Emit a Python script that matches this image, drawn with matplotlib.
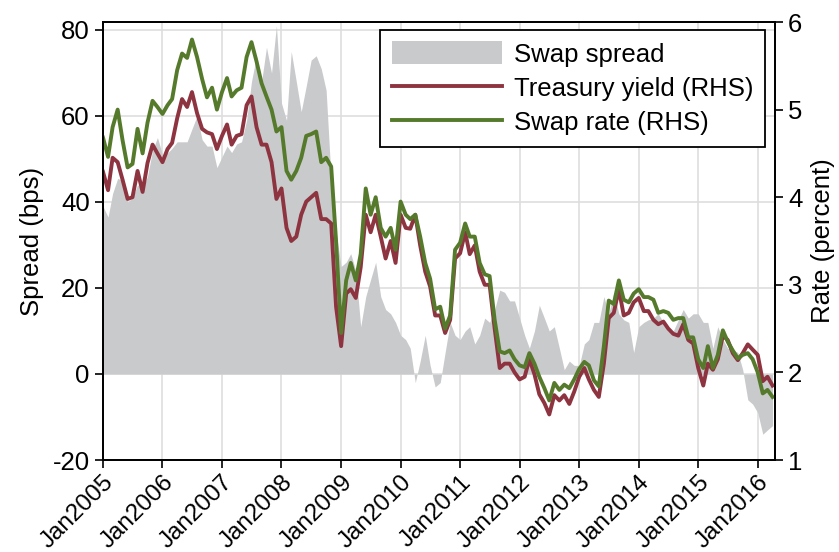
import pandas as pd
import numpy as np
import matplotlib
matplotlib.use('Agg')
import matplotlib.pyplot as plt
import matplotlib.dates as mdates
from matplotlib.patches import Patch
from matplotlib.lines import Line2D

plt.rcParams['font.family'] = ['Liberation Sans', 'DejaVu Sans']
plt.rcParams['axes.unicode_minus'] = False

# monthly observations, Jan 2005 - Apr 2016
dates = pd.date_range('2005-01-01', periods=136, freq='MS')

# swap spread (bps), left axis
spread = [39, 36.5, 42, 45.5, 45, 40, 41, 44, 43, 46, 52, 55, 51, 51.4, 52.5, 54, 54, 54, 57, 60,
          54.5, 53, 53, 48, 50.5, 53, 51.5, 53.5, 54, 59, 68, 74, 68, 76, 70, 81, 63, 59, 75,
          68, 61, 67, 73, 74, 71, 66, 45, 33, 25, 26, 28, 24, 11, 18, 22, 26, 18, 15, 14,
          12, 9, 8, 6, -2, 3, 9, 2, -3, -2, 5, 12, 9, 8, 10, 11, 7, 9, 13, 12,
          15, 19.5, 19, 17, 17, 13, 9, 6, 10, 16, 13, 10, 11, 6, 1, 3, 2, 2, 7,
          8, 12, 12, 18, 14, 19, 14, 12.6, 12, 5, 11, 12, 12.6, 13, 14, 12, 10, 10, 12.6, 15,
          13, 14, 14, 12, 12, 6, 11, 8, 6, 5.6, 5, 1, -6, -7, -9, -14, -13, -12]

# 10y treasury yield (percent), right axis
treasury = [4.29, 4.08, 4.45, 4.4, 4.2, 3.98, 4.0, 4.3, 4.06, 4.39, 4.6, 4.5, 4.4, 4.55, 4.62, 4.9, 5.12, 5.03, 5.2, 4.96,
            4.78, 4.74, 4.72, 4.55, 4.7, 4.83, 4.6, 4.7, 4.72, 5.05, 5.15, 4.8, 4.6, 4.6, 4.4, 3.98, 4.1, 3.65, 3.5,
            3.55, 3.8, 3.95, 4.0, 4.05, 3.75, 3.75, 3.7, 2.75, 2.3, 2.9, 2.95, 2.85, 3.2, 3.8, 3.6, 3.8, 3.55, 3.3, 3.5,
            3.25, 3.8, 3.65, 3.64, 3.8, 3.45, 3.15, 2.98, 2.65, 2.65, 2.45, 2.6, 3.3, 3.36, 3.6, 3.35, 3.45, 3.15, 3.0, 3.0,
            2.5, 2.05, 2.1, 2.1, 2.0, 1.92, 1.95, 2.15, 1.98, 1.75, 1.65, 1.52, 1.74, 1.68, 1.74, 1.64, 1.78, 1.95, 2.05,
            1.92, 1.8, 1.72, 2.1, 2.62, 2.68, 2.95, 2.65, 2.68, 2.8, 2.85, 2.7, 2.7, 2.6, 2.55, 2.58, 2.5, 2.44, 2.42, 2.55,
            2.37, 2.33, 2.05, 1.85, 2.1, 2.03, 2.15, 2.42, 2.37, 2.22, 2.14, 2.22, 2.32, 2.26, 2.2, 1.9, 1.95, 1.85]

# 10y swap rate (percent), right axis
swap = [4.68, 4.46, 4.8, 5.0, 4.65, 4.34, 4.38, 4.78, 4.5, 4.85, 5.1, 5.03, 4.95, 5.05, 5.12, 5.45, 5.64, 5.59, 5.8, 5.6,
        5.35, 5.14, 5.25, 5.0, 5.2, 5.36, 5.15, 5.22, 5.25, 5.6, 5.77, 5.55, 5.3, 5.15, 5.0, 4.75, 4.8, 4.3, 4.2,
        4.3, 4.45, 4.7, 4.72, 4.75, 4.4, 4.45, 4.35, 3.5, 2.45, 3.05, 3.25, 3.05, 3.35, 4.1, 3.8, 4.0, 3.65, 3.55, 3.65,
        3.4, 3.95, 3.8, 3.75, 3.8, 3.55, 3.25, 3.07, 2.72, 2.75, 2.5, 2.65, 3.4, 3.48, 3.7, 3.55, 3.55, 3.25, 3.12, 3.1,
        2.6, 2.24, 2.22, 2.25, 2.15, 2.08, 2.06, 2.22, 2.1, 1.95, 1.82, 1.68, 1.88, 1.8, 1.86, 1.82, 1.92, 2.04, 2.12,
        2.08, 1.91, 1.84, 2.3, 2.82, 2.78, 3.05, 2.83, 2.8, 2.9, 2.95, 2.86, 2.86, 2.83, 2.68, 2.7, 2.68, 2.6, 2.62, 2.62,
        2.4, 2.4, 2.15, 2.05, 2.3, 2.05, 2.2, 2.48, 2.35, 2.25, 2.16, 2.2, 2.22, 2.15, 2.0, 1.76, 1.8, 1.72]

fill_color = '#c9cacc'
red = '#8e3440'
green = '#567a2c'
fs = 18.5
lw = 2.8

fig = plt.figure(figsize=(8.39, 5.52), dpi=100)
ax = fig.add_axes([103/839, 1 - 460/552, 672/839, 438/552])
ax2 = ax.twinx()

ax.fill_between(dates, 0, spread, color=fill_color, linewidth=0)
ax2.plot(dates, treasury, color=red, lw=lw)
ax2.plot(dates, swap, color=green, lw=lw)

ax.set_ylim(-20, 81.86)
ax2.set_ylim(1, 6)
ax.set_yticks([-20, 0, 20, 40, 60, 80])
ax2.set_yticks([1, 2, 3, 4, 5, 6])
ax.set_xlim(pd.Timestamp('2005-01-01'), pd.Timestamp('2016-04-16'))

ax.xaxis.set_major_locator(mdates.YearLocator())
ax.xaxis.set_major_formatter(mdates.DateFormatter('%b%Y'))

ax.grid(True, color='#dedede', lw=1.2)
ax.set_axisbelow(True)

for a in (ax, ax2):
    a.tick_params(labelsize=fs, length=6, width=1.2, direction='out', colors='black')
    for s in a.spines.values():
        s.set_linewidth(1.3)
ax.tick_params(axis='x', labelsize=17.5, pad=2)
for lab in ax.get_xticklabels():
    lab.set_rotation(45)
    lab.set_ha('right')
    lab.set_va('top')
    lab.set_rotation_mode('anchor')

ax.set_ylabel('Spread (bps)', fontsize=fs, labelpad=6)
ax2.set_ylabel('Rate (percent)', fontsize=fs, labelpad=6, rotation=90)

handles = [Patch(facecolor=fill_color, edgecolor='none'),
           Line2D([], [], color=red, lw=lw),
           Line2D([], [], color=green, lw=lw)]
leg = ax2.legend(handles, ['Swap spread', 'Treasury yield (RHS)', 'Swap rate (RHS)'],
                 loc='upper right', bbox_to_anchor=(0.985, 0.982), fontsize=fs,
                 frameon=True, fancybox=False, edgecolor='black', framealpha=1,
                 handlelength=4.3, handleheight=1.0, handletextpad=0.45,
                 labelspacing=0.35, borderpad=0.45, borderaxespad=0)
leg.get_frame().set_linewidth(1.3)

fig.savefig('out.png', dpi=100)
